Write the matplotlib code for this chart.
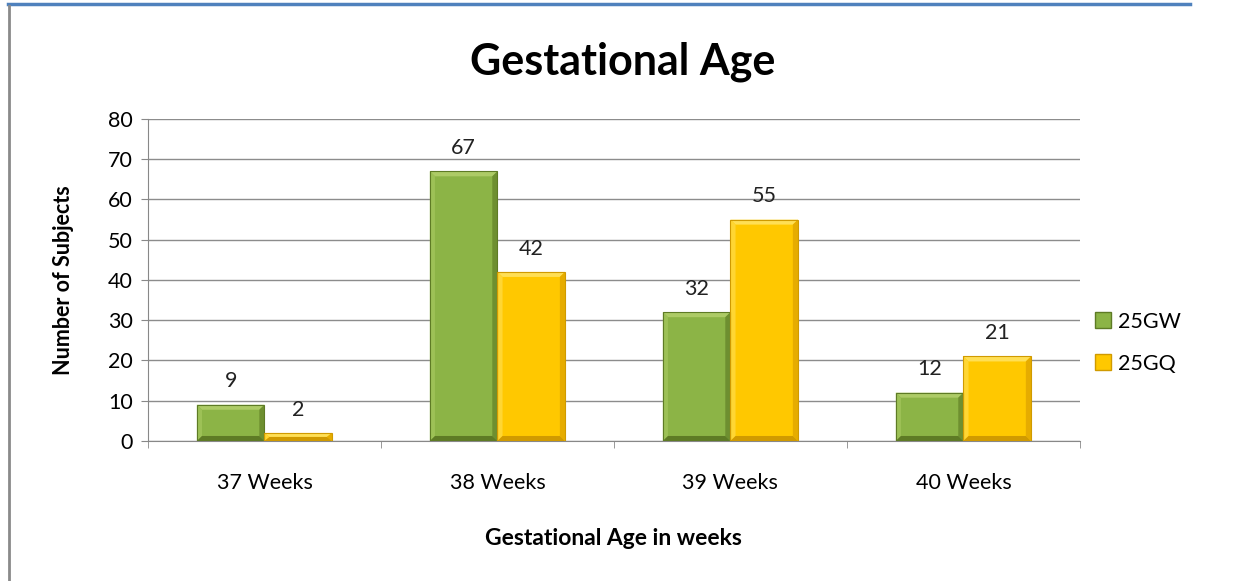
import matplotlib.pyplot as plt
from matplotlib.patches import Polygon
from matplotlib.lines import Line2D
import numpy as np

plt.rcParams['font.family'] = ['Lato', 'DejaVu Sans']

categories = ["37 Weeks", "38 Weeks", "39 Weeks", "40 Weeks"]
gw = [9, 67, 32, 12]
gq = [2, 42, 55, 21]
series_names = ["25GW", "25GQ"]

fig = plt.figure(figsize=(12.36, 5.81), dpi=100)
ax = fig.add_axes([0.1197, 0.241, 0.754, 0.5542])

x = np.arange(len(categories))
w = 0.29

# colours: main, top, left, right, bottom
green = ["#8CB446", "#ADCB66", "#9DC156", "#6E8F30", "#5E7B25"]
yellow = ["#FFC800", "#FFDF55", "#FFD633", "#E6AC00", "#D09A00"]

bev_x = 0.022
bev_y = 5 * 80 / 322


def bevel_bar(x0, h, cols):
    x1 = x0 + w
    bx = bev_x
    by = min(bev_y, h / 2)
    ax.add_patch(Polygon([(x0, 0), (x1, 0), (x1, h), (x0, h)], closed=True,
                         facecolor=cols[0], edgecolor="none", zorder=3))
    ax.add_patch(Polygon([(x0, h), (x1, h), (x1 - bx, h - by), (x0 + bx, h - by)],
                         facecolor=cols[1], edgecolor="none", zorder=4))
    ax.add_patch(Polygon([(x0, 0), (x0 + bx, by), (x0 + bx, h - by), (x0, h)],
                         facecolor=cols[2], edgecolor="none", zorder=4))
    ax.add_patch(Polygon([(x1, 0), (x1 - bx, by), (x1 - bx, h - by), (x1, h)],
                         facecolor=cols[3], edgecolor="none", zorder=4))
    ax.add_patch(Polygon([(x0, 0), (x1, 0), (x1 - bx, by), (x0 + bx, by)],
                         facecolor=cols[4], edgecolor="none", zorder=4))
    ax.add_patch(Polygon([(x0, 0), (x1, 0), (x1, h), (x0, h)], closed=True,
                         facecolor="none", edgecolor=cols[4], lw=0.8, zorder=5))


for i in range(len(categories)):
    bevel_bar(x[i] - w, gw[i], green)
    bevel_bar(x[i], gq[i], yellow)
    ax.text(x[i] - w / 2, gw[i] + 3.3, str(gw[i]), ha="center", va="bottom",
            fontsize=15.5, color="#222222")
    ax.text(x[i] + w / 2, gq[i] + 3.3, str(gq[i]), ha="center", va="bottom",
            fontsize=15.5, color="#222222")

ax.set_xlim(-0.5, len(categories) - 0.5)
ax.set_ylim(0, 80)
ax.set_yticks(np.arange(0, 81, 10))
ax.set_xticks(x)
ax.set_xticklabels(categories)
ax.set_xticks(np.arange(-0.5, len(categories), 1), minor=True)
ax.tick_params(axis="x", which="major", length=0, pad=23, labelsize=15.5)
ax.tick_params(axis="x", which="minor", length=5, color="#888888")
ax.tick_params(axis="y", length=5, color="#888888", labelsize=15.5, pad=6)
ax.grid(axis="y", color="#8C8C8C", lw=1)
ax.set_axisbelow(True)
for s in ["top", "right"]:
    ax.spines[s].set_visible(False)
ax.spines["left"].set_color("#888888")
ax.spines["bottom"].set_color("#888888")

ax.set_ylabel("Number of Subjects", fontsize=15.5, fontweight="bold", labelpad=24)
ax.set_xlabel("Gestational Age in weeks", fontsize=16.5, fontweight="bold", labelpad=25)
fig.text(0.504, 0.893, "Gestational Age", ha="center", va="center",
         fontsize=31, fontweight="bold")

handles = [Line2D([], [], marker="s", ls="none", markersize=11,
                  markerfacecolor=green[0], markeredgecolor=green[4]),
           Line2D([], [], marker="s", ls="none", markersize=11,
                  markerfacecolor=yellow[0], markeredgecolor=yellow[4])]
fig.legend(handles, series_names, loc="center left", bbox_to_anchor=(0.868, 0.41),
           frameon=False, fontsize=15.5, handletextpad=0.2, labelspacing=1.0,
           handlelength=1)

# page decorations
fig.add_artist(Line2D([8 / 1236, 1190 / 1236], [1 - 4 / 581, 1 - 4 / 581],
                      color="#4F81BD", lw=2.5))
fig.add_artist(Line2D([9 / 1236, 9 / 1236], [0, 1 - 6 / 581],
                      color="#8A8A8A", lw=2))

fig.savefig("out.png", dpi=100)
